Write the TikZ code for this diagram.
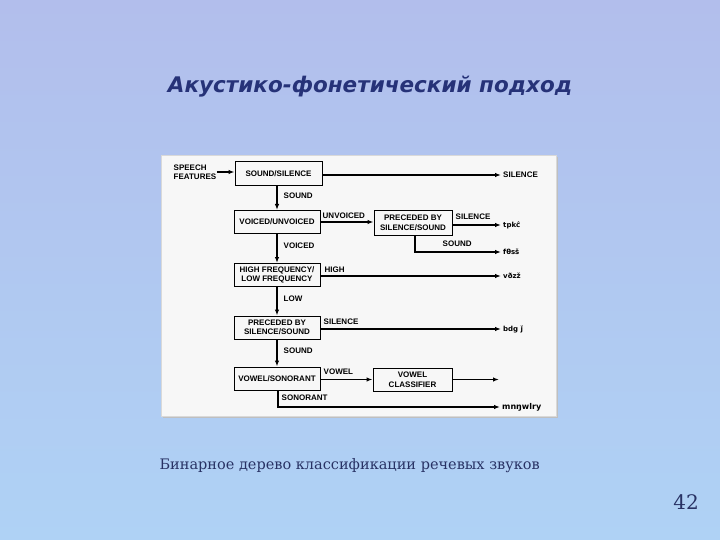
\documentclass[tikz,border=0pt]{standalone}
\usepackage{fontspec}
\setmainfont{DejaVu Serif}
\newfontfamily\diagfont{Liberation Sans}
\newfontfamily\ipafont{DejaVu Sans}
\newfontfamily\titlefont{DejaVu Sans}
\usetikzlibrary{arrows.meta}
\definecolor{bgtop}{RGB}{178,190,236}
\definecolor{bgbot}{RGB}{175,210,245}
\definecolor{titleblue}{RGB}{38,50,120}
\definecolor{capblue}{RGB}{40,50,100}
\begin{document}
\begin{tikzpicture}[x=1pt,y=-1pt,
  box/.style={draw, line width=1pt, minimum width=86pt, minimum height=23pt, align=center, inner sep=0pt,
    font=\diagfont\bfseries\fontsize{8}{9.5}\selectfont},
  lab/.style={inner sep=0.5pt, font=\diagfont\bfseries\fontsize{8}{9.5}\selectfont},
  endlab/.style={inner sep=2pt, anchor=west, font=\diagfont\bfseries\fontsize{8}{9.5}\selectfont},
  ipalab/.style={inner sep=2pt, anchor=west, font=\ipafont\bfseries\fontsize{7}{8}\selectfont},
  arr/.style={line width=1.4pt, -{Latex[length=6pt,width=4.5pt]}}]
\useasboundingbox (0,0) rectangle (720,540);
\shade[top color=bgtop, bottom color=bgbot] (0,0) rectangle (720,540);
% panel
\fill[black!25] (163,157) rectangle (558,418);
\fill[white!97!black] (161,155) rectangle (556,416);
\draw[black!15, line width=0.6pt] (161,155) rectangle (556,416);
% title
\node[font=\titlefont\bfseries\itshape\fontsize{21.5}{24}\selectfont, text=titleblue] (title) at (370,87) {Акустико-фонетический подход};
% nodes
\node[lab, align=left, anchor=west] (sf) at (173,172) {SPEECH\\FEATURES};
\node[box, minimum width=87pt, minimum height=24pt] (ss) at (278.5,174) {SOUND/SILENCE};
\node[box] (vu) at (277,222) {VOICED/UNVOICED};
\node[box, minimum width=78pt, minimum height=24pt] (pr) at (413,223) {PRECEDED BY\\SILENCE/SOUND};
\node[box] (hf) at (277,275) {HIGH FREQUENCY/\\LOW FREQUENCY};
\node[box] (ps) at (277,327.5) {PRECEDED BY\\SILENCE/SOUND};
\node[box] (vs) at (277,378.5) {VOWEL/SONORANT};
\node[box, minimum width=79pt] (vc) at (412.5,379.5) {VOWEL\\CLASSIFIER};
% outputs
\node[endlab] (o1) at (501,175) {SILENCE};
\node[ipalab] (o2) at (501,225) {tpkĉ};
\node[ipalab] (o3) at (501,252) {fθsš};
\node[ipalab] (o4) at (501,276) {vðzž};
\node[ipalab] (o5) at (501,329) {bdg ǰ};
\coordinate (o6) at (499,379.5);
\node[ipalab, font=\ipafont\bfseries\fontsize{8}{9}\selectfont] (o7) at (500,407) {mnŋwlry};
% connectors
\draw[arr] (sf.east) -- (ss.west |- sf.east);
\draw[arr] (ss.east |- o1.west) -- (o1.west);
\draw[arr] (ss.south -| vu.north) -- (vu.north);
\draw[arr] (vu.east) -- (vu.east -| pr.west);
\draw[arr] (pr.east |- o2.west) -- (o2.west);
\draw[arr] ([xshift=2pt]pr.south) |- (o3.west);
\draw[arr] (vu.south) -- (hf.north);
\draw[arr] (hf.east |- o4.west) -- (o4.west);
\draw[arr] (hf.south) -- (ps.north);
\draw[arr] (ps.east |- o5.west) -- (o5.west);
\draw[arr] (ps.south) -- (vs.north);
\draw[arr] (vs.east |- vc.west) -- (vc.west);
\draw[arr] (vc.east) -- (o6);
\draw[arr] ([xshift=1pt]vs.south) |- (o7.west);
% labels
\node[lab, anchor=west] (l1) at (283,196) {SOUND};
\node[lab, anchor=west] (l2) at (322,216) {UNVOICED};
\node[lab, anchor=west] (l3) at (455,217) {SILENCE};
\node[lab, anchor=west] (l4) at (442,244) {SOUND};
\node[lab, anchor=west] (l5) at (283,246) {VOICED};
\node[lab, anchor=west] (l6) at (324,270) {HIGH};
\node[lab, anchor=west] (l7) at (283,299) {LOW};
\node[lab, anchor=west] (l8) at (323,322) {SILENCE};
\node[lab, anchor=west] (l9) at (283,351) {SOUND};
\node[lab, anchor=west] (l10) at (323,372) {VOWEL};
\node[lab, anchor=west] (l11) at (281,398) {SONORANT};
% caption
\node[font=\fontsize{14.5}{18}\selectfont, text=capblue, anchor=west] (cap) at (156,466) {Бинарное дерево классификации речевых звуков};
\node[font=\fontsize{20}{24}\selectfont, text=capblue] (num) at (686,502) {42};
\end{tikzpicture}
\end{document}
